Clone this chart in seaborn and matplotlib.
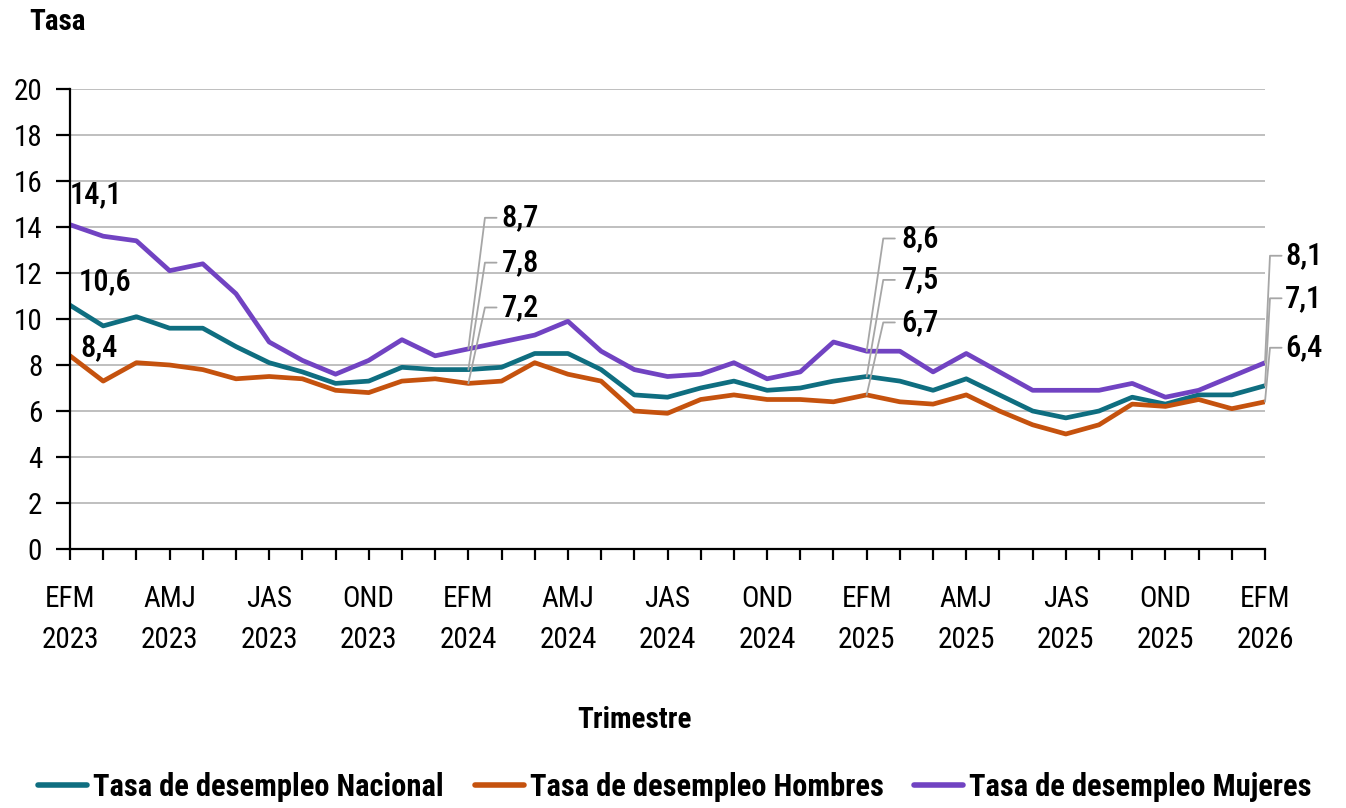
import pandas as pd
import matplotlib
matplotlib.use("Agg")
from matplotlib import pyplot as plt
from matplotlib import font_manager as fm
import seaborn as sns

periods = ["EFM", "FMA", "MAM", "AMJ", "MJJ", "JJA", "JAS", "ASO", "SON", "OND", "NDE", "DEF"]
years = [2023, 2024, 2025]
quarters = [f"{p} {y}" for y in years for p in periods] + ["EFM 2026"]

nacional = [10.6, 9.7, 10.1, 9.6, 9.6, 8.8, 8.1, 7.7, 7.2, 7.3, 7.9, 7.8,
            7.8, 7.9, 8.5, 8.5, 7.8, 6.7, 6.6, 7.0, 7.3, 6.9, 7.0, 7.3,
            7.5, 7.3, 6.9, 7.4, 6.7, 6.0, 5.7, 6.0, 6.6, 6.3, 6.7, 6.7,
            7.1]
hombres = [8.4, 7.3, 8.1, 8.0, 7.8, 7.4, 7.5, 7.4, 6.9, 6.8, 7.3, 7.4,
           7.2, 7.3, 8.1, 7.6, 7.3, 6.0, 5.9, 6.5, 6.7, 6.5, 6.5, 6.4,
           6.7, 6.4, 6.3, 6.7, 6.0, 5.4, 5.0, 5.4, 6.3, 6.2, 6.5, 6.1,
           6.4]
mujeres = [14.1, 13.6, 13.4, 12.1, 12.4, 11.1, 9.0, 8.2, 7.6, 8.2, 9.1, 8.4,
           8.7, 9.0, 9.3, 9.9, 8.6, 7.8, 7.5, 7.6, 8.1, 7.4, 7.7, 9.0,
           8.6, 8.6, 7.7, 8.5, 7.7, 6.9, 6.9, 6.9, 7.2, 6.6, 6.9, 7.5,
           8.1]

series = {
    "Tasa de desempleo Nacional": nacional,
    "Tasa de desempleo Hombres": hombres,
    "Tasa de desempleo Mujeres": mujeres,
}
colors = {
    "Tasa de desempleo Nacional": "#0F6E80",
    "Tasa de desempleo Hombres": "#C5520E",
    "Tasa de desempleo Mujeres": "#7143C2",
}

rows = []
for name, vals in series.items():
    for i, v in enumerate(vals):
        rows.append({"idx": i, "tasa": v, "serie": name})
df = pd.DataFrame(rows)

# buscar una fuente estrecha; si no hay, Liberation Sans un poco mas chica
available = {f.name for f in fm.fontManager.ttflist}
narrow = [n for n in ["Liberation Sans Narrow", "Roboto Condensed", "Open Sans Condensed",
                      "DejaVu Sans Condensed", "Noto Sans Condensed"] if n in available]
if narrow:
    family, scale = narrow[0], 1.0
else:
    family, scale = "Liberation Sans", 0.86

sns.set_style("white")
plt.rcParams["font.family"] = [family, "DejaVu Sans"]
plt.rcParams["text.color"] = "black"
plt.rcParams["xtick.color"] = "black"
plt.rcParams["ytick.color"] = "black"

fs = 21 * scale

fig = plt.figure(figsize=(13.46, 8.08), dpi=100)
ax = fig.add_axes([70 / 1346, 1 - 549 / 808, 1195 / 1346, 460 / 808])

sns.lineplot(data=df, x="idx", y="tasa", hue="serie", palette=colors,
             linewidth=3.4, ax=ax, legend=True)

ax.set_xlim(0, len(quarters) - 1)
ax.set_ylim(0, 20)
ax.set_yticks(range(0, 21, 2))
ax.yaxis.grid(True, color="#BFBFBF", linewidth=1.4)
ax.set_axisbelow(True)
for s in ["top", "right"]:
    ax.spines[s].set_visible(False)
for s in ["left", "bottom"]:
    ax.spines[s].set_color("black")
    ax.spines[s].set_linewidth(1.6)

major = list(range(0, len(quarters), 3))
ax.set_xticks(major)
ax.set_xticklabels([quarters[i].replace(" ", "\n") for i in major], linespacing=1.6)
ax.set_xticks(range(len(quarters)), minor=True)
ax.tick_params(axis="x", which="both", direction="out", length=8, width=1.6,
               color="black", bottom=True, labelsize=fs, pad=18)
ax.tick_params(axis="y", direction="out", length=10, width=1.6, color="black",
               left=True, labelsize=fs, pad=10)
ax.set_xlabel("")
ax.set_ylabel("")

fig.text(57 / 1346, 1 - 22 / 808, "Tasa", fontsize=fs, fontweight="bold",
         ha="center", va="center")
fig.text(635 / 1346, 1 - 720 / 808, "Trimestre", fontsize=fs, fontweight="bold",
         ha="center", va="center")

# etiquetas en el primer punto
first_pos = [(0.0, 15.4), (0.25, 11.6), (0.3, 8.75)]
for (tx, ty), vals in zip(first_pos, [mujeres, nacional, hombres]):
    ax.text(tx, ty, f"{vals[0]:.1f}".replace(".", ","), fontsize=fs + 1,
            fontweight="medium", ha="left", va="center", clip_on=False)

# etiquetas con lineas guia
def leader(i, ys, dx0, dx1, dxt):
    for vals, yl in zip([mujeres, nacional, hombres], ys):
        ax.plot([i, i + dx0, i + dx1], [vals[i], yl, yl], color="#A6A6A6",
                linewidth=1.3, clip_on=False, zorder=5)
        ax.text(i + dxt, yl, f"{vals[i]:.1f}".replace(".", ","), fontsize=fs + 1,
                fontweight="medium", ha="left", va="center", clip_on=False)

leader(12, [14.4, 12.45, 10.5], 0.5, 0.85, 1.0)
leader(24, [13.5, 11.7, 9.85], 0.5, 0.85, 1.05)
leader(36, [12.75, 10.9, 8.75], 0.15, 0.5, 0.6)

handles, labels = ax.get_legend_handles_labels()
ax.legend_.remove()
leg = fig.legend(handles, labels, loc="center", bbox_to_anchor=(675 / 1346, 1 - 787 / 808),
                 ncol=3, frameon=False, handlelength=1.6, handletextpad=0.2,
                 columnspacing=1.0, prop={"size": fs + 1, "weight": "bold"})
for line in leg.get_lines():
    line.set_linewidth(4)

fig.savefig("out.png", dpi=100)
